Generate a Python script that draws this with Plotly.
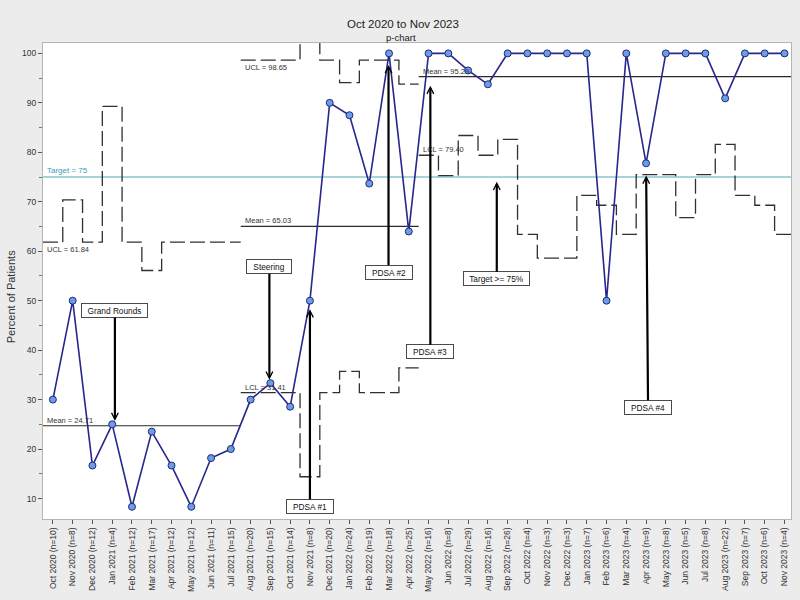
import plotly.graph_objects as go

# ---------------- data ----------------
months = ["Oct 2020", "Nov 2020", "Dec 2020", "Jan 2021", "Feb 2021", "Mar 2021",
          "Apr 2021", "May 2021", "Jun 2021", "Jul 2021", "Aug 2021", "Sep 2021",
          "Oct 2021", "Nov 2021", "Dec 2021", "Jan 2022", "Feb 2022", "Mar 2022",
          "Apr 2022", "May 2022", "Jun 2022", "Jul 2022", "Aug 2022", "Sep 2022",
          "Oct 2022", "Nov 2022", "Dec 2022", "Jan 2023", "Feb 2023", "Mar 2023",
          "Apr 2023", "May 2023", "Jun 2023", "Jul 2023", "Aug 2023", "Sep 2023",
          "Oct 2023", "Nov 2023"]
n_values = [10, 8, 12, 4, 12, 17, 12, 12, 11, 15, 20, 15, 14, 8, 20, 24, 19, 18,
            25, 16, 8, 29, 16, 26, 4, 3, 3, 7, 6, 4, 9, 8, 5, 8, 22, 7, 6, 4]
percent = [30.0, 50.0, 16.67, 25.0, 8.33, 23.53, 16.67, 8.33, 18.18, 20.0,
           30.0, 33.33, 28.57, 50.0, 90.0, 87.5, 73.68, 100.0, 64.0,
           100.0, 100.0, 96.55, 93.75, 100.0, 100.0, 100.0, 100.0, 100.0, 50.0,
           100.0, 77.78, 100.0, 100.0, 100.0, 90.91, 100.0, 100.0, 100.0]
ucl = [61.84, 70.4, 61.84, 89.3, 61.84, 56.1, 61.84, 61.84, 61.84, 61.84,
       98.65, 98.65, 98.65, 115.0, 98.65, 94.1, 98.65, 98.65, 93.8,
       None, None, None, None, None, None, None, None, None, None,
       None, None, None, None, None, None, None, None, None]
lcl = [None, None, None, None, None, None, None, None, None, None,
       31.41, 31.41, 31.41, 14.4, 31.41, 35.7, 31.41, 31.41, 36.4,
       79.40, 75.3, 83.4, 79.4, 82.6, 63.4, 58.6, 58.6, 71.3, 69.3,
       63.4, 75.5, 75.5, 66.8, 75.5, 81.6, 71.3, 69.3, 63.4]
phase_start = [0, 10, 19]
phase_end = [9, 18, 37]
phase_mean = [24.71, 65.03, 95.29]
target = 75
limit_labels = [("UCL", 0, 61.84, "top"), ("UCL", 1, 98.65, "top"),
                ("LCL", 1, 31.41, "bottom"), ("LCL", 2, 79.40, "bottom")]

# annotations: text, month index (+fraction), y value, ax, ay (px), standoff, width, xshift
notes = [
    ("Grand Rounds", 3, 25.0, 0, -113.8, 3.3, 63, 2.7),
    ("Steering", 11, 33.33, 0, -116.4, 3.5, 42, -1),
    ("PDSA #1", 13, 50.0, 0, 205.5, 8.5, 44, 0),
    ("PDSA #2", 17, 100.0, 0, 218.7, 11.7, 44, -0.5),
    ("PDSA #3", 19.09, 95.29, 0, 275.0, 9.0, 44, 0),
    ("Target >= 75%", 22.45, 75.0, 0, 101.7, 4.7, 63, 0),
    ("PDSA #4", 30, 77.78, 2, 244.0, 12.3, 44, 0),
]

idx = list(range(len(months)))
ticktext = [f"{m} (n={n})" for m, n in zip(months, n_values)]

fig = go.Figure()

# target line
fig.add_trace(go.Scatter(x=[-0.5, len(months) - 0.5], y=[target, target], mode="lines",
                         line=dict(color="#a7d4db", width=2), hoverinfo="skip"))


def step(values, s, e):
    xs, ys = [], []
    for i in range(s, e + 1):
        v = values[i]
        if v is None:
            continue
        xs += [i - 0.5, i + 0.5]
        ys += [v, v]
    return xs, ys


for s, e, m in zip(phase_start, phase_end, phase_mean):
    for lim in (ucl, lcl):
        xs, ys = step(lim, s, e)
        if xs:
            fig.add_trace(go.Scatter(x=xs, y=ys, mode="lines",
                                     line=dict(color="#303030", width=1.3, dash="15px,5px"),
                                     hoverinfo="skip"))
    fig.add_trace(go.Scatter(x=[s - 0.5, e + 0.5], y=[m, m], mode="lines",
                             line=dict(color="#2a2a2a", width=1.2), hoverinfo="skip"))

# data series
fig.add_trace(go.Scatter(x=idx, y=percent, mode="lines+markers",
                         line=dict(color="#27278c", width=1.6),
                         marker=dict(size=7, color="#6b9be9", line=dict(color="#1f2b70", width=1)),
                         cliponaxis=False))

annotations = []
small = dict(family="Liberation Sans, Arial, sans-serif", size=7.5, color="#333333")
for s, m in zip(phase_start, phase_mean):
    annotations.append(dict(x=s - 0.5, y=m, xref="x", yref="y", text=f"Mean = {m:.2f}",
                            showarrow=False, xanchor="left", yanchor="bottom", xshift=2,
                            yshift=-1, font=small))
for name, ph, v, anc in limit_labels:
    annotations.append(dict(x=phase_start[ph] - 0.5, y=v, xref="x", yref="y",
                            text=f"{name} = {v:.2f}", showarrow=False, xanchor="left",
                            yanchor=anc, xshift=2, yshift=-1, font=small))
annotations.append(dict(x=-0.5, y=target, xref="x", yref="y", text=f"Target = {target}",
                        showarrow=False, xanchor="left", yanchor="bottom", xshift=2, yshift=0,
                        font=dict(family="Liberation Sans, Arial, sans-serif", size=8, color="#3a9cb4")))

for text, x, y, ax, ay, so, w, xs in notes:
    annotations.append(dict(x=x, y=y, xref="x", yref="y", text=text, showarrow=True,
                            ax=ax, ay=ay, axref="pixel", ayref="pixel", standoff=so,
                            arrowhead=5, arrowsize=0.6, arrowwidth=2.2, arrowcolor="#000000",
                            bgcolor="white", bordercolor="#4a4a4a", borderwidth=1, borderpad=1,
                            width=w, height=11, xshift=xs,
                            font=dict(family="Liberation Sans, Arial, sans-serif",
                                      size=8.3, color="#111111")))

# titles
annotations.append(dict(x=0.481, y=1.0405, xref="paper", yref="paper", text="Oct 2020 to Nov 2023",
                        showarrow=False, xanchor="center", yanchor="middle",
                        font=dict(family="Liberation Sans, Arial, sans-serif", size=11.5, color="#222222")))
annotations.append(dict(x=0.479, y=1.011, xref="paper", yref="paper", text="p-chart",
                        showarrow=False, xanchor="center", yanchor="middle",
                        font=dict(family="Liberation Sans, Arial, sans-serif", size=9.5, color="#222222")))
annotations.append(dict(x=-0.0435, y=0.4667, xref="paper", yref="paper", text="Percent of Patients",
                        showarrow=False, xanchor="center", yanchor="middle", textangle=-90,
                        font=dict(family="Liberation Sans, Arial, sans-serif", size=11, color="#333333")))

fig.update_layout(
    width=800, height=600,
    margin=dict(l=43, r=8, t=43, b=76),
    paper_bgcolor="#ececec", plot_bgcolor="white",
    showlegend=False,
    annotations=annotations,
    xaxis=dict(range=[-0.5, 37.33], tickmode="array", tickvals=idx, ticktext=ticktext,
               tickangle=-90, ticks="outside", ticklen=4, tickcolor="#555555",
               tickfont=dict(family="Liberation Sans, Arial, sans-serif", size=8.5, color="#333333"),
               showgrid=False, zeroline=False, showline=True, mirror=True,
               linecolor="#b5b5b5", linewidth=1),
    yaxis=dict(range=[5.86, 102.1], tickmode="array", tickvals=list(range(10, 101, 10)),
               ticks="outside", ticklen=4, tickcolor="#555555",
               minor=dict(ticks="outside", ticklen=3, dtick=5, tick0=5, tickcolor="#777777"),
               tickfont=dict(family="Liberation Sans, Arial, sans-serif", size=8.5, color="#333333"),
               showgrid=False, zeroline=False, showline=True, mirror=True,
               linecolor="#b5b5b5", linewidth=1),
)

fig.write_html("out.html")
